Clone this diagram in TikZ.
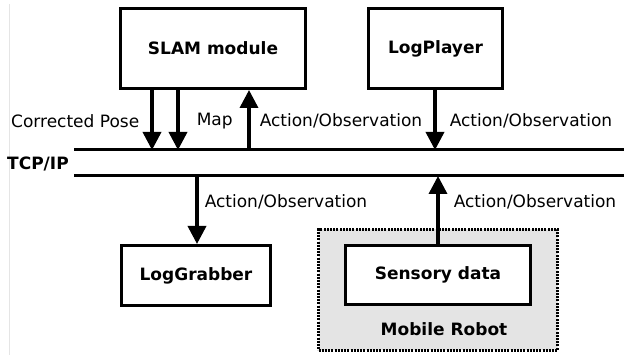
\documentclass[tikz,border=0pt]{standalone}
\usepackage{fontspec}
\setmainfont{DejaVu Sans}
\usepackage{tikz}
\usetikzlibrary{arrows.meta}
\usepackage{xcolor}
\definecolor{robotgray}{HTML}{E4E4E4}

\begin{document}
\begin{tikzpicture}[x=1pt,y=-1pt,font=\fontsize{17}{20}\selectfont,
  box/.style={draw,line width=3pt,fill=white,font=\fontsize{17}{20}\selectfont\bfseries},
  flow/.style={line width=3.5pt,-{Triangle[length=18pt,width=18pt]}},
  bus/.style={line width=3pt},
  lbl/.style={inner sep=0pt}]
\useasboundingbox (0,0) rectangle (624,355);
\draw[gray!20,line width=1pt] (9.5,4) -- (9.5,355);
% robot frame
\node[draw,line width=3pt,dash pattern=on 2pt off 1.2pt,fill=robotgray,
  minimum width=239pt,minimum height=121pt] (robot) at (438,290) {};
\node[font=\fontsize{17}{20}\selectfont\bfseries] (robotlbl) at (444,329) {Mobile Robot};
% boxes
\node[box,minimum width=185pt,minimum height=80pt] (slam) at (213,48.5) {SLAM module};
\node[box,minimum width=134pt,minimum height=80pt] (player) at (435.5,48.5) {LogPlayer};
\node[box,minimum width=149pt,minimum height=60pt] (grabber) at (196,275.5) {LogGrabber};
\node[box,minimum width=185pt,minimum height=59pt] (sensor) at (438,275) {Sensory data};
% bus
\coordinate (busTw) at (74,150);
\coordinate (busTe) at (624,150);
\coordinate (busBw) at (74,176);
\coordinate (busBe) at (624,176);
\draw[bus] (busTw) -- (busTe);
\draw[bus] (busBw) -- (busBe);
\node[anchor=west,inner sep=0pt,font=\fontsize{17}{20}\selectfont\bfseries] (tcp) at (7,164) {TCP/IP};
\coordinate (cpose) at (152,150);
\coordinate (map) at (178,150);
\coordinate (obsup) at (249,150);
\coordinate (play) at (435,150);
\coordinate (grab) at (197,176);
\coordinate (sense) at (438,176);
% connectors
\draw[flow] (slam.south -| cpose) -- (cpose) node[lbl,pos=0.52,left=11pt] {Corrected Pose};
\draw[flow] (slam.south -| map) -- (map) node[lbl,pos=0.52,right=17pt] {Map};
\draw[flow] (obsup) -- (slam.south -| obsup) node[lbl,pos=0.48,right=9pt] {Action/Observation};
\draw[flow] (player.south -| play) -- (play) node[lbl,pos=0.52,right=13pt] {Action/Observation};
\draw[flow] (grab) -- (grabber.north -| grab) node[lbl,pos=0.38,right=6pt] {Action/Observation};
\draw[flow] (sensor.north) -- (sense) node[lbl,pos=0.62,right=14pt] {Action/Observation};
\end{tikzpicture}
\end{document}
